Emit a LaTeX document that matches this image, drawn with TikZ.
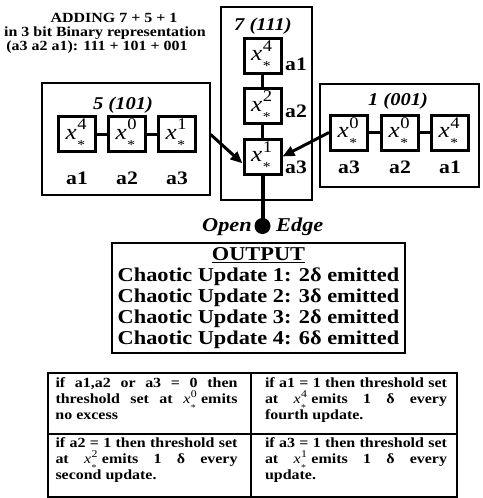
\documentclass[tikz,border=0pt]{standalone}
\usepackage{fontspec}
\usepackage{graphicx}
\setmainfont{Liberation Serif}[FakeStretch=1.14]
\usetikzlibrary{arrows.meta,calc}
\newcommand{\xs}[1]{{\mdseries\itshape x}\kern0.03em\rlap{\raisebox{0.42em}[0pt][0pt]{\mdseries\scalebox{0.74}{#1}}}\raisebox{-0.47em}[0pt][0pt]{\mdseries\scalebox{0.62}{*}}\kern0.14em}
\newcommand{\xt}[1]{\xs{#1}\kern0.25em}
\begin{document}
\begin{tikzpicture}[x=1pt,y=-1pt,
  titlef/.style={font=\fontsize{14}{14}\selectfont\bfseries, align=center, inner sep=0pt},
  bigbox/.style={draw, line width=1.2pt, inner sep=0pt},
  sbox/.style={draw, line width=3pt, minimum width=37pt, minimum height=35pt, inner sep=0pt, font=\fontsize{22}{22}\selectfont},
  lab/.style={font=\fontsize{19}{19}\selectfont\bfseries, inner sep=0pt},
  numlab/.style={font=\fontsize{18}{18}\selectfont\bfseries\itshape, inner sep=0pt, anchor=base},
  link/.style={line width=3pt},
  arr/.style={line width=3pt, -{Triangle[length=12pt,width=10pt]}},
  cell/.style={draw, line width=1.5pt, inner sep=0pt},
  celltext/.style={font=\fontsize{14}{16}\selectfont\bfseries, text width=182pt, align=justify, inner sep=0pt, anchor=north}
]
\useasboundingbox (0,0) rectangle (482,498);

% title
\node[titlef] (title) at (105,33.5) {\hspace*{18pt}ADDING 7 + 5 + 1\\in 3 bit Binary representation\\(a3 a2 a1): 111 + 101 + 001\hspace*{16pt}};

% left group 5 (101)
\node[bigbox, minimum width=168pt, minimum height=112pt] (lbox) at (126,139) {};
\node[numlab] (lnum) at (123,109) {5 (101)};
\node[sbox] (l1) at (77,134) {\xs{4}};
\node[sbox] (l2) at (127,134) {\xs{0}};
\node[sbox] (l3) at (177,134) {\xs{1}};
\draw[link] (l1) -- (l2);
\draw[link] (l2) -- (l3);
\node[lab, anchor=base] (la1) at (77,184) {a1};
\node[lab, anchor=base] (la2) at (127,184) {a2};
\node[lab, anchor=base] (la3) at (177,184) {a3};

% centre group 7 (111)
\node[bigbox, minimum width=91pt, minimum height=193pt] (cbox) at (266.5,103.5) {};
\node[numlab] (cnum) at (263,30) {7 (111)};
\node[sbox] (c1) at (262.5,55.5) {\xs{4}};
\node[sbox] (c2) at (262.5,106) {\xs{2}};
\node[sbox] (c3) at (262.5,156.5) {\xs{1}};
\draw[link] (c1) -- (c2);
\draw[link] (c2) -- (c3);
\node[lab, anchor=base west] (ca1) at (285,70) {a1};
\node[lab, anchor=base west] (ca2) at (285,117) {a2};
\node[lab, anchor=base west] (ca3) at (285,173) {a3};

% right group 1 (001)
\node[bigbox, minimum width=159pt, minimum height=103pt] (rbox) at (399.5,135.5) {};
\node[numlab] (rnum) at (398,105) {1 (001)};
\node[sbox] (r1) at (349,132.5) {\xs{0}};
\node[sbox] (r2) at (400,132.5) {\xs{0}};
\node[sbox] (r3) at (450,132.5) {\xs{4}};
\draw[link] (r1) -- (r2);
\draw[link] (r2) -- (r3);
\node[lab, anchor=base] (ra3) at (349,173) {a3};
\node[lab, anchor=base] (ra2) at (400,173) {a2};
\node[lab, anchor=base] (ra1) at (450,173) {a1};

% arrows
\coordinate (lstart) at ($(lbox.north east)!0.46!(lbox.south east)$);
\coordinate (lend) at ($(c3.north west)!0.68!(c3.south west)$);
\draw[arr] (lstart) -- (lend);
\draw[arr] (r1.west) -- (c3.east);

% open edge
\node[circle, fill, minimum size=16pt, inner sep=0pt] (dot) at (262.5,226) {};
\draw[line width=4pt] (c3.south) -- (dot.center);
\node[font=\fontsize{19.6}{20}\selectfont\bfseries\itshape, anchor=base east, inner sep=0pt] (open) at (252,231) {Open};
\node[font=\fontsize{19.6}{20}\selectfont\bfseries\itshape, anchor=base west, inner sep=0pt] (edge) at (276,231) {Edge};

% output
\node[draw, line width=2pt, minimum width=293pt, minimum height=110pt, inner sep=0pt, align=center,
      font=\fontsize{19.6}{21}\selectfont\bfseries] (out) at (258.5,298)
  {\underline{OUTPUT}\\Chaotic Update 1: 2δ emitted\\Chaotic Update 2: 3δ emitted\\Chaotic Update 3: 2δ emitted\\Chaotic Update 4: 6δ emitted};

% table
\node[cell, minimum width=203pt, minimum height=61pt] (ctl) at (149.5,403.5) {};
\node[cell, minimum width=206pt, minimum height=61pt] (ctr) at (354,403.5) {};
\node[cell, minimum width=203pt, minimum height=63pt] (cbl) at (149.5,465.5) {};
\node[cell, minimum width=206pt, minimum height=63pt] (cbr) at (354,465.5) {};
\node[celltext] (ttl) at ($(ctl.north)+(-3,5.5)$) {if a1,a2 or a3 = 0 then\linebreak threshold set at \xt{0} emits\linebreak no excess};
\node[celltext] (ttr) at ($(ctr.north)+(2,5.5)$) {if a1 = 1 then threshold set\linebreak at \xt{4} emits 1 δ every\linebreak fourth update.};
\node[celltext] (tbl) at ($(cbl.north)+(-3,4.5)$) {if a2 = 1 then threshold set\linebreak at \xt{2} emits 1 δ every\linebreak second update.};
\node[celltext] (tbr) at ($(cbr.north)+(2,4.5)$) {if a3 = 1 then threshold set\linebreak at \xt{1} emits 1 δ every\linebreak update.};
\end{tikzpicture}
\end{document}
